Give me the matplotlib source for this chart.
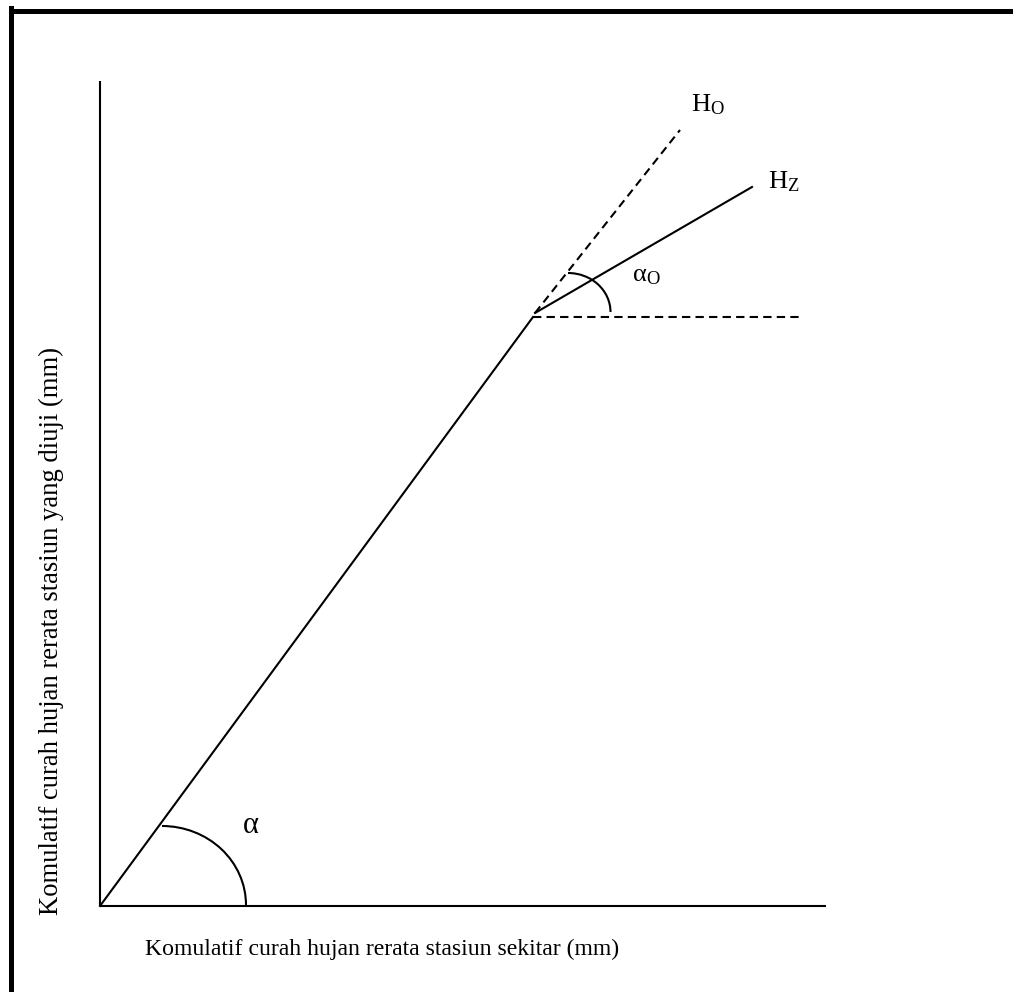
import matplotlib
matplotlib.use("Agg")
import matplotlib.pyplot as plt
from matplotlib.patches import Arc
from matplotlib.lines import Line2D

plt.rcParams['font.family'] = ['Liberation Serif', 'DejaVu Serif']
plt.rcParams['mathtext.fontset'] = 'custom'
plt.rcParams['mathtext.rm'] = 'Liberation Serif'
plt.rcParams['mathtext.it'] = 'Liberation Serif:italic'

# ---- data (diagram coordinates, origin at the axes corner) ----
axis_x_end = 726
axis_y_end = 825
main_x = [0, 433]          # cumulative line up to the break point
main_y = [0, 589]
hz_x = [435, 652]          # corrected (solid) continuation H_Z
hz_y = [593, 719]
ho_x = [435, 580]          # original (dashed) continuation H_O
ho_y = [593, 776]
ref_x = [433, 703]         # horizontal reference at break
ref_y = [589, 589]
alpha_arc = (62, 1, 168, 158)      # cx, cy, width, height
alphao_arc = (468, 594, 85, 78)
labels = [
    (591, 795, r'$\mathrm{H}_{\mathrm{O}}$', 19),
    (668, 718, r'$\mathrm{H}_{\mathrm{Z}}$', 19),
    (532, 625, r'$\mathrm{α}_{\mathrm{O}}$', 19),
    (143, 73, 'α', 22),
]
xlabel = 'Komulatif curah hujan rerata stasiun sekitar (mm)'
ylabel = 'Komulatif curah hujan rerata stasiun yang diuji (mm)'

W, H = 1013, 992
fig = plt.figure(figsize=(W / 100, H / 100), dpi=100)
ax = fig.add_axes([0, 0, 1, 1])
# pixel mapping: px = x + 100, py = 906 - y
ax.set_xlim(-100, W - 100)
ax.set_ylim(-(H - 906), 906)
ax.axis('off')

lw = 1.5
k = 'black'
# axes lines
ax.plot([0, 0], [0, axis_y_end], color=k, lw=lw, solid_capstyle='butt')
ax.plot([0, axis_x_end], [0, 0], color=k, lw=lw, solid_capstyle='butt')
# lines
ax.plot(main_x, main_y, color=k, lw=lw)
ax.plot(hz_x, hz_y, color=k, lw=lw)
ax.plot(ho_x, ho_y, color=k, lw=lw, linestyle=(0, (4, 2.5)))
ax.plot(ref_x, ref_y, color=k, lw=lw, linestyle=(0, (4, 2.5)))
# arcs
for cx, cy, w, h in (alpha_arc, alphao_arc):
    ax.add_patch(Arc((cx, cy), w, h, theta1=0, theta2=90, color=k, lw=lw))

# labels
for x, y, s, fs in labels:
    ax.text(x, y, s, fontsize=fs, ha='left', va='baseline', color=k)

ax.text(45, -49, xlabel, fontsize=17.1, ha='left', va='baseline', color=k)
ax.text(-42, 275, ylabel, fontsize=19.2, rotation=90, ha='center', va='baseline',
        rotation_mode='anchor', color=k)

# page border (top and left)
fig.add_artist(Line2D([10.5 / W, 1.0], [1 - 10.5 / H, 1 - 10.5 / H],
                      transform=fig.transFigure, color=k, lw=3.6))
fig.add_artist(Line2D([10.5 / W, 10.5 / W], [0.0, 1 - 8 / H],
                      transform=fig.transFigure, color=k, lw=3.6))

fig.savefig('out.png', dpi=100, facecolor='white')
